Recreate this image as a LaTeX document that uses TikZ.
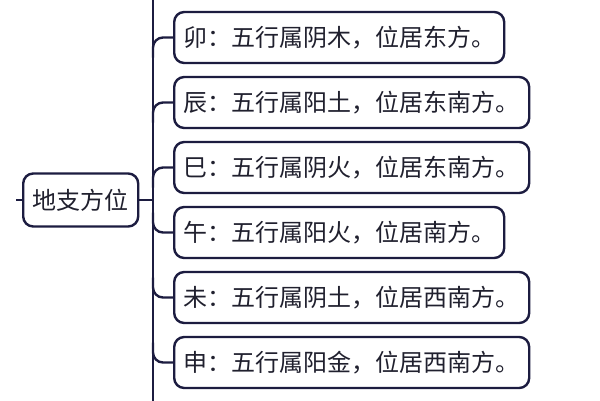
\documentclass[tikz,border=0pt]{standalone}
\usepackage{fontspec}
\newfontfamily\cjk{Noto Sans CJK SC}
\definecolor{navy}{HTML}{1C1C40}
\definecolor{txt}{HTML}{20202E}
\begin{document}
\begin{tikzpicture}[x=1pt,y=-1pt,
  box/.style={draw=navy, line width=2.4pt, rounded corners=10pt, fill=white,
    minimum height=51pt, inner sep=0pt, anchor=west, text=txt,
    font=\cjk\fontsize{24}{26}\selectfont},
  branch/.style={draw=navy, line width=2.4pt},
  twig/.style={branch, rounded corners=10pt}]
\fill[white] (0,0) rectangle (600,400);
\useasboundingbox (0,0) rectangle (600,400);
% trunk
\coordinate (ttop) at (153,-5);
\coordinate (tbot) at (153,405);
\draw[branch] (ttop) -- (tbot);
% root
\node[box, minimum width=115pt, minimum height=53pt] (root) at (22,200) {地支方位};
\coordinate (stub) at (16,200);
\coordinate (troot) at (153,200);
\draw[branch] (stub) -- (root.west);
\draw[branch] (root.east) -- (troot);
% children
\node[box, minimum width=330pt] (b1) at (173,37.5) {卯：五行属阴木，位居东方。};
\node[box, minimum width=355pt] (b2) at (173,102.5) {辰：五行属阳土，位居东南方。};
\node[box, minimum width=355pt] (b3) at (173,167.5) {巳：五行属阴火，位居东南方。};
\node[box, minimum width=330pt] (b4) at (173,232.5) {午：五行属阳火，位居南方。};
\node[box, minimum width=355pt] (b5) at (173,297.5) {未：五行属阴土，位居西南方。};
\node[box, minimum width=355pt] (b6) at (173,362.5) {申：五行属阳金，位居西南方。};
% branch anchors on trunk
\coordinate (t1) at (153,57.5);
\coordinate (t2) at (153,122.5);
\coordinate (t3) at (153,187.5);
\coordinate (t4) at (153,212.5);
\coordinate (t5) at (153,277.5);
\coordinate (t6) at (153,342.5);
\foreach \i in {1,...,6} {\draw[twig] (b\i.west) -| (t\i);}
\end{tikzpicture}
\end{document}
